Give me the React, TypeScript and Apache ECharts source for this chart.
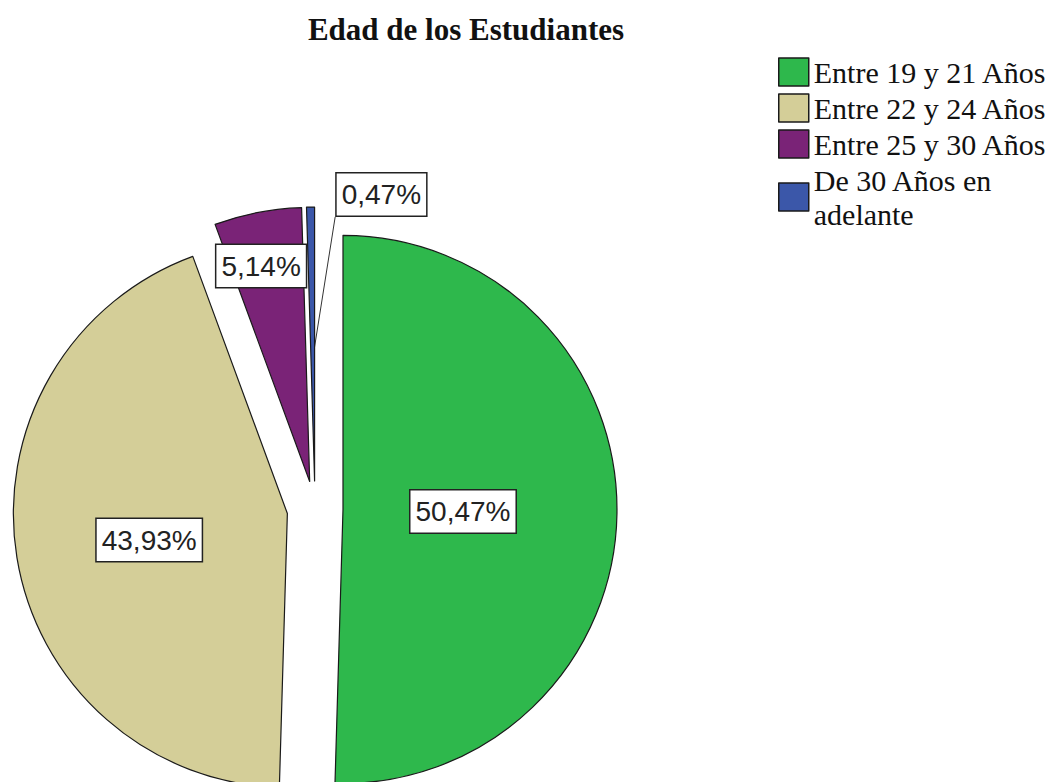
import React, { useEffect, useRef } from 'react';
import * as echarts from 'echarts';

const chartTitle = 'Edad de los Estudiantes';
const categories = ['Entre 19 y 21 Años', 'Entre 22 y 24 Años', 'Entre 25 y 30 Años', 'De 30 Años en adelante'];
const percentages = [50.47, 43.93, 5.14, 0.47];
const colors = ['#2eb84c', '#d4ce98', '#7a2377', '#3b57a9'];

// label nudges (style only)
const labelNudges: number[][] = [[-20, 0], [0, 4], [-22, -78], [0, 0]];

export default function App() {
  const ref = useRef<HTMLDivElement>(null);
  useEffect(() => {
    document.body.style.margin = '0';
    const chart = echarts.init(ref.current!, null, { renderer: 'svg' });
    const fmt = (v: number) => v.toFixed(2).replace('.', ',') + '%';
    chart.setOption({
      animation: false,
      title: {
        text: chartTitle,
        left: 461,
        top: 9,
        textAlign: 'center',
        textStyle: { fontFamily: 'Liberation Serif', fontWeight: 'bold', fontSize: 31, color: '#111' },
      },
      legend: {
        orient: 'vertical',
        left: 778,
        top: 55,
        padding: 0,
        itemWidth: 30,
        itemHeight: 28,
        itemGap: 2,
        icon: 'rect',
        selectedMode: false,
        itemStyle: { borderColor: '#1a1a1a', borderWidth: 1.5 },
        textStyle: { fontFamily: 'Liberation Serif', fontSize: 30, lineHeight: 34, color: '#111' },
        formatter: (name: string) => (name === 'De 30 Años en adelante' ? 'De 30 Años en\nadelante' : name),
        data: categories,
      },
      series: [
        {
          type: 'pie',
          center: [315, 509],
          radius: 274,
          startAngle: 90,
          clockwise: true,
          avoidLabelOverlap: false,
          selectedMode: 'multiple',
          selectedOffset: 28,
          emphasis: { disabled: true },
          itemStyle: { borderColor: '#1a1a1a', borderWidth: 1.2 },
          select: { itemStyle: { borderColor: '#1a1a1a', borderWidth: 1.2 } },
          label: {
            show: true,
            position: 'inside',
            formatter: (p: any) => fmt(p.value),
            fontFamily: 'Liberation Sans',
            fontSize: 28,
            color: '#222',
            backgroundColor: '#fff',
            borderColor: '#222',
            borderWidth: 1.5,
            padding: [7, 5, 7, 5],
          },
          labelLine: { show: false },
          labelLayout: (params: any) => {
            const i = params.dataIndex;
            if (i === 3) {
              const r = params.rect;
              const lr = params.labelRect;
              const left = r.x + r.width + 20;
              const cy = r.y - 12;
              const dx = left - lr.x;
              const dy = cy - (lr.y + lr.height / 2);
              return {
                dx,
                dy,
                labelLinePoints: [
                  [left, cy + lr.height / 2],
                  [left, cy + lr.height / 2],
                  [r.x + r.width / 2 + 1, r.y + r.height * 0.58],
                ],
              };
            }
            return { dx: labelNudges[i][0], dy: labelNudges[i][1] };
          },
          data: categories.map((name, i) => ({
            name,
            value: percentages[i],
            selected: true,
            itemStyle: { color: colors[i] },
            ...(i === 3
              ? {
                  label: { position: 'outside' },
                  labelLine: { show: true, length: 10, length2: 10, lineStyle: { color: '#333', width: 1 } },
                }
              : {}),
          })),
        },
      ],
    });
    return () => chart.dispose();
  }, []);
  return <div ref={ref} style={{ width: 1056, height: 782 }} />;
}
